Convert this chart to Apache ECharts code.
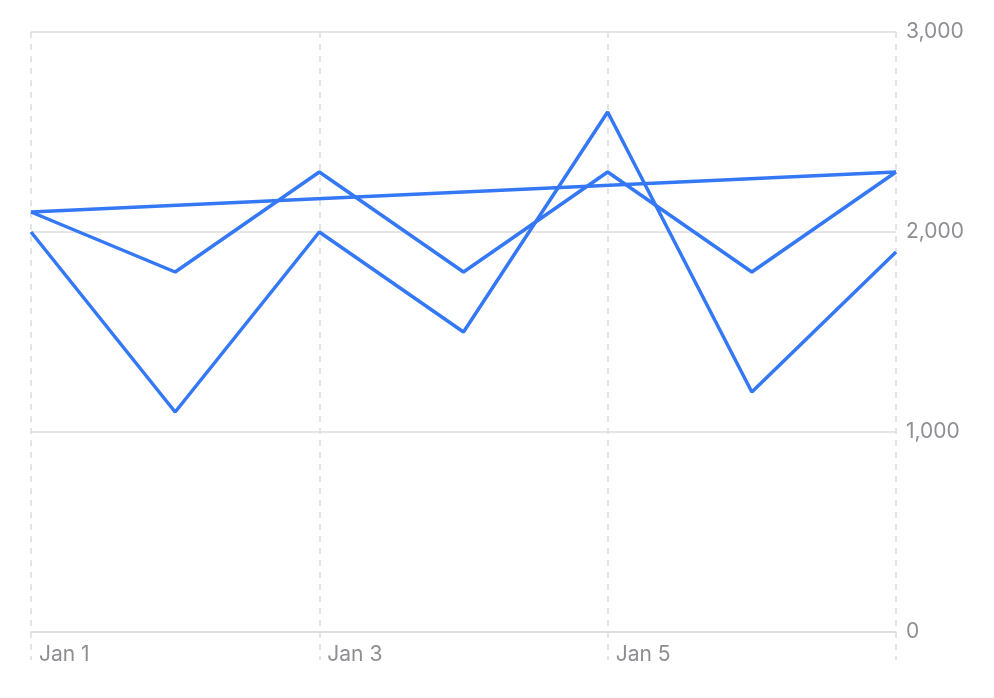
<!DOCTYPE html>
<html>
<head>
<meta charset="utf-8">
<script src="https://cdn.jsdelivr.net/npm/echarts@6/dist/echarts.min.js"></script>
<style>
  html, body { margin: 0; padding: 0; background: #fff; }
  #chart { width: 994px; height: 698px; }
</style>
</head>
<body>
<div id="chart"></div>
<script>
const days = ['Jan 1', 'Jan 2', 'Jan 3', 'Jan 4', 'Jan 5', 'Jan 6', 'Jan 7']
const seriesA = [2100, 1800, 2300, 1800, 2300, 1800, 2300]
const seriesB = [2000, 1100, 2000, 1500, 2600, 1200, 1900]
const trend = [['Jan 1', 2100], ['Jan 7', 2300]]
const yTicks = [0, 1000, 2000, 3000]

const blue = '#3478f6'
const gray = '#8e8e93'
const grid = '#dcdcdc'

function lineSeries(data) {
  return {
    type: 'line',
    data,
    symbol: 'none',
    lineStyle: { color: blue, width: 3.5 },
    itemStyle: { color: blue },
    z: 3
  }
}

const chart = echarts.init(document.getElementById('chart'))
chart.setOption({
  animation: false,
  grid: { left: 31, right: 98, top: 32, bottom: 66 },
  xAxis: {
    type: 'category',
    data: days,
    boundaryGap: false,
    axisLine: { lineStyle: { color: grid, width: 1.5 } },
    axisTick: {
      show: true,
      interval: 1,
      length: 28,
      lineStyle: { color: grid, type: [6, 6], width: 1.5 }
    },
    axisLabel: {
      // last date has no label in the original
      interval: (i) => i % 2 === 0 && i < days.length - 1,
      align: 'left',
      padding: [0, 0, 0, 8],
      margin: 12,
      color: gray,
      fontSize: 21,
      fontFamily: 'Inter'
    },
    splitLine: {
      show: true,
      interval: 1,
      lineStyle: { color: grid, type: [6, 6], width: 1.5 }
    }
  },
  yAxis: {
    type: 'value',
    position: 'right',
    min: yTicks[0],
    max: yTicks[yTicks.length - 1],
    interval: 1000,
    axisLine: { show: false },
    axisTick: { show: false },
    axisLabel: {
      margin: 10,
      padding: [3, 0, 0, 0],
      color: gray,
      fontSize: 21,
      fontFamily: 'Inter',
      formatter: v => v.toLocaleString('en-US')
    },
    splitLine: { lineStyle: { color: grid, width: 1.5 } }
  },
  series: [
    lineSeries(seriesA),
    lineSeries(seriesB),
    lineSeries(trend)
  ]
})
</script>
</body>
</html>
